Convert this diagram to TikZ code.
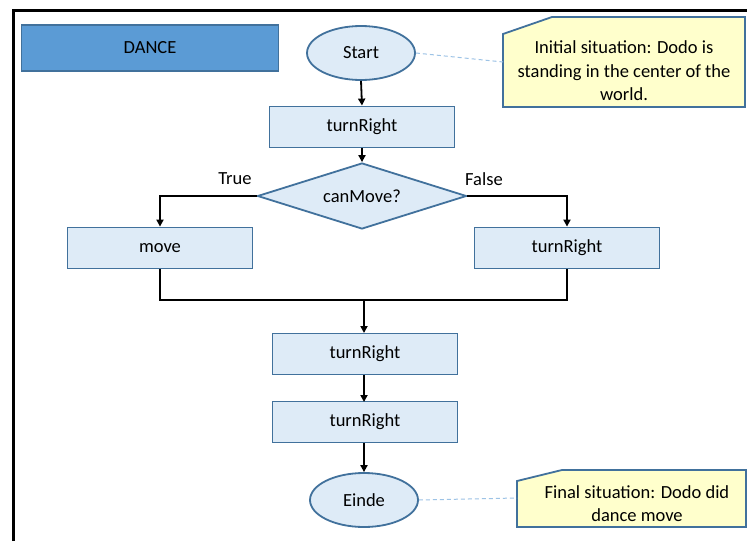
\documentclass[tikz,border=0pt]{standalone}
\usepackage{fontspec}
\setmainfont{Carlito}
\usetikzlibrary{shapes.geometric,arrows.meta}
\definecolor{boxfill}{HTML}{DEEBF7}
\definecolor{boxline}{HTML}{41719C}
\definecolor{titlefill}{HTML}{5B9BD5}
\definecolor{notefill}{HTML}{FFFFCC}
\definecolor{leader}{HTML}{9DC3E6}
\tikzset{
  x=1pt, y=-1pt,
  every node/.style={font=\fontsize{18.5}{23.5}\selectfont, text=black},
  stepbox/.style={rectangle, draw=boxline, fill=boxfill, line width=1.8pt,
    minimum width=185pt, minimum height=41pt, inner sep=0pt},
  terminal/.style={ellipse, draw=boxline, fill=boxfill, line width=1.8pt,
    minimum width=108pt, minimum height=54pt, inner sep=0pt},
  decision/.style={diamond, draw=boxline, fill=boxfill, line width=1.8pt,
    shape aspect=3.2, minimum width=209pt, minimum height=66pt, inner sep=0pt},
  notebox/.style={draw=boxline, fill=notefill, line width=1.8pt, line join=miter},
  flow/.style={line width=1.8pt, draw=black},
  arrow/.style={flow, -{Triangle[length=7pt,width=7pt]}},
  leaderline/.style={draw=leader, line width=1pt, dashed, dash pattern=on 4pt off 3pt},
}
\begin{document}
\begin{tikzpicture}
\useasboundingbox (0,0) rectangle (747,541);
\fill[white] (0,0) rectangle (747,541);

% outer frame
\draw[line width=3pt] (13.5,541) -- (13.5,10) -- (747,10);

% title box
\node[rectangle, draw=boxline, fill=titlefill, line width=1.8pt,
  minimum width=257pt, minimum height=46pt, inner sep=0pt] (title) at (150,48) {DANCE};

% flowchart nodes
\node[terminal] (start) at (361,53) {Start};
\node[stepbox] (tr1) at (362,127) {turnRight};
\node[decision] (cond) at (362,196) {canMove?};
\node[stepbox] (move) at (160,248) {move};
\node[stepbox] (trR) at (567,248) {turnRight};
\coordinate (merge) at (364,300);
\node[stepbox] (tr2) at (365,354) {turnRight};
\node[stepbox] (tr3) at (365,422) {turnRight};
\node[terminal] (einde) at (364,500) {Einde};

% branch labels
\node (truelbl) at (235,179) {True};
\node (falselbl) at (484,179) {False};

% connectors
\draw[arrow] (start.south) -- (tr1.north);
\draw[arrow] (tr1.south) -- (cond.north);
\draw[arrow] (cond.west) -| (move.north);
\draw[arrow] (cond.east) -| (trR.north);
\draw[flow] (move.south) |- (merge) -| (trR.south);
\draw[arrow] (merge) -- (364,333);
\draw[arrow] (tr2.south -| 364,0) -- (364,402);
\draw[arrow] (tr3.south -| 364,0) -- (einde.north);

% comment notes
\draw[notebox] (503,34) -- (552,17) -- (745,17) -- (745,107) -- (503,107) -- cycle;
\node[align=center] (initnote) at (624,71)
  {Initial situation: Dodo is\\standing in the center of the\\world.};
\coordinate (initleft) at (503,62);
\draw[notebox] (517,481) -- (562,470) -- (746,470) -- (746,527) -- (517,527) -- cycle;
\node[align=center] (finalnote) at (637,503.5)
  {Final situation: Dodo did\\dance move};
\coordinate (finalleft) at (517,498);

% leader lines
\draw[leaderline] (start.east) -- (initleft);
\draw[leaderline] (einde.east) -- (finalleft);
\end{tikzpicture}
\end{document}
